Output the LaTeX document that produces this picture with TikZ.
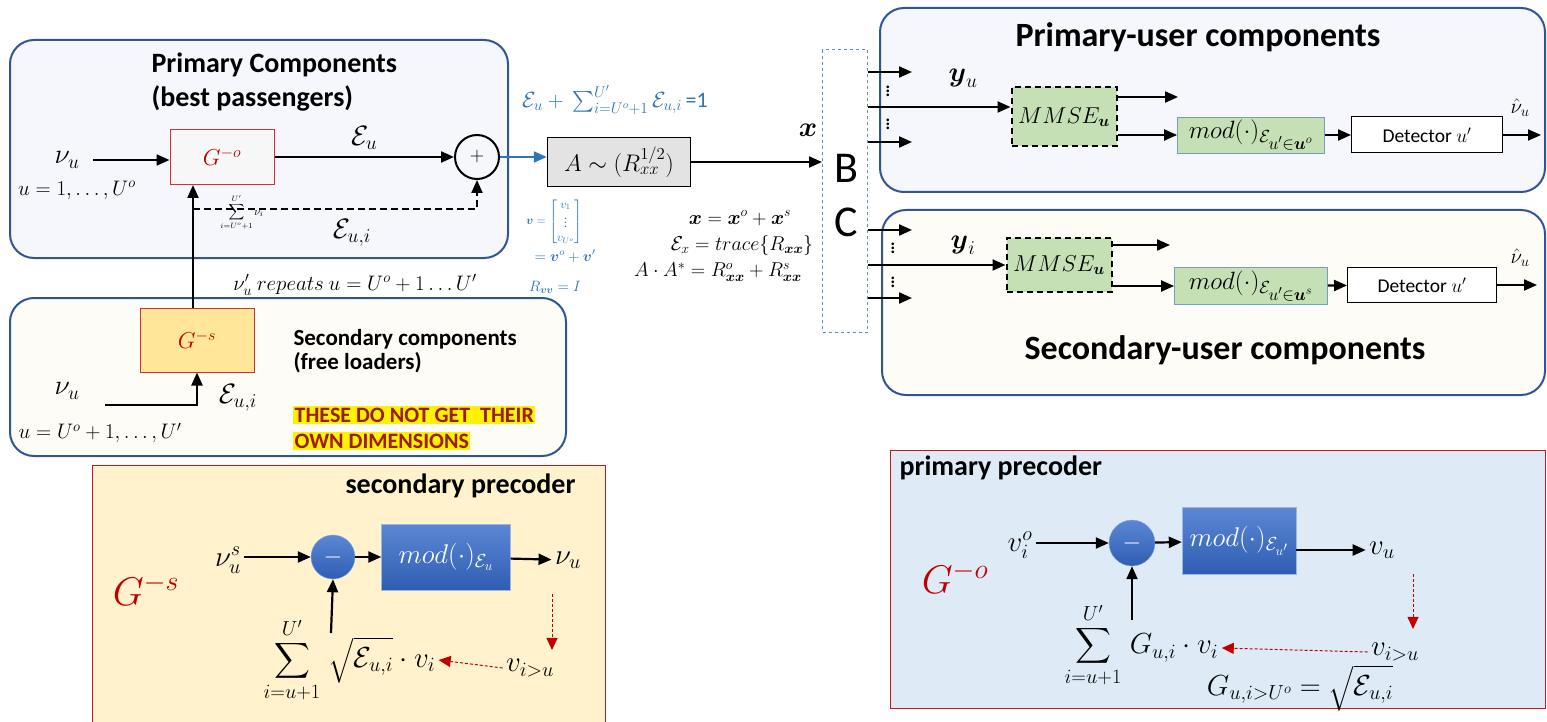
\documentclass[tikz,border=0pt]{standalone}
\usepackage{fix-cm}
\usepackage{amsmath}
\usepackage{fontspec}
\setmainfont{Carlito}
\setsansfont{Carlito}
\usetikzlibrary{arrows.meta}
\definecolor{panelblue}{HTML}{2F5597}
\definecolor{panelfill}{HTML}{F5F7FC}
\definecolor{creamfill}{HTML}{FDFCF6}
\definecolor{gred}{HTML}{C00000}
\definecolor{gsfill}{HTML}{FFE699}
\definecolor{mmsegreen}{HTML}{C5E0B4}
\definecolor{modtop}{HTML}{5B87D4}
\definecolor{modbot}{HTML}{2F5DB2}
\definecolor{txtblue}{HTML}{2E75B6}
\definecolor{secfill}{HTML}{FFF2CC}
\definecolor{primfill}{HTML}{DEEBF7}
\definecolor{darkred}{HTML}{9C1B1B}

\begin{document}
\begin{tikzpicture}[x=1pt,y=-1pt,
    panel/.style={draw=panelblue, line width=2pt, rounded corners=24pt},
    arr/.style={line width=2.2pt, -{Triangle[length=13pt,width=11pt]}},
    redarr/.style={gred, line width=1pt, dash pattern=on 3pt off 2pt, -{Triangle[length=12pt,width=11pt]}},
    gblk/.style={draw=gred!80, line width=1pt, text=gred, font=\fontsize{23}{26}\selectfont},
    mth/.style={font=\fontsize{28}{32}\selectfont},
    mths/.style={font=\fontsize{21}{24}\selectfont},
    pm/.style={font=\fontsize{29}{34}\selectfont},
    head/.style={font=\bfseries\fontsize{28}{34}\selectfont},
    bluet/.style={text=txtblue, font=\fontsize{22}{24}\selectfont},
    meq/.style={font=\fontsize{20}{24}\selectfont},
    dotcol/.style={font=\fontsize{22}{24}\selectfont},
    mmse/.style={draw, dash pattern=on 6pt off 4pt, line width=2pt, fill=mmsegreen, font=\fontsize{23}{26}\selectfont},
    modg/.style={draw=txtblue!70, line width=0.8pt, fill=mmsegreen, inner sep=1pt, font=\fontsize{25}{28}\selectfont},
    det/.style={draw, line width=1pt, fill=white, font=\fontsize{19.5}{22}\selectfont},
    circ/.style={circle, draw=modtop!70, top color=modtop, bottom color=modbot, text=white, font=\fontsize{24}{28}\selectfont},
    modb/.style={draw=modtop!60, top color=modtop, bottom color=modbot, text=white, font=\fontsize{27}{32}\selectfont},
    bigG/.style={text=gred, font=\fontsize{40}{46}\selectfont},
    warn/.style={anchor=west, fill=yellow, text=darkred, inner sep=1.5pt, font=\bfseries\fontsize{22}{25}\selectfont}
]
\useasboundingbox (0,0) rectangle (1547,722);

% panels
\draw[panel, fill=panelfill] (10,40) rectangle (508,258);
\draw[panel, fill=creamfill] (10,298) rectangle (566,456);
\draw[panel, fill=panelfill] (880,8) rectangle (1545,192);
\draw[panel, fill=creamfill] (882,210) rectangle (1545,395);
\draw[gred!90, line width=1pt, fill=secfill] (92,465) rectangle (605,740);
\draw[gred!90, line width=1pt, fill=primfill] (890,450) rectangle (1545,708);

% primary components
\node[head, anchor=north west, align=left] (ptitle) at (148,49) {Primary Components\\(best passengers)};
\node[mth] (nuo) at (67,160) {$\nu_u$};
\node[mths] (uo) at (77,190) {$u=1,\dots,U^o$};
\node[gblk, fill=gray!6, minimum width=104pt, minimum height=55pt] (Go) at (222,157) {$G^{-o}$};
\node[draw, circle, line width=2pt, minimum size=44pt, font=\fontsize{20}{24}\selectfont] (plus) at (477,157) {$+$};
\coordinate (tap) at (193,209);
\draw[arr] ([xshift=10pt]nuo.east) -- (Go.west |- nuo.east);
\draw[arr] (Go.east) -- (plus.west) node[midway, above=3pt, mth] {$\mathcal{E}_u$};
\draw[arr, dash pattern=on 7pt off 4pt] (tap) -| (plus.south);
\node[font=\fontsize{11}{12}\selectfont] (sumv) at (242,212) {$\displaystyle\sum_{i=U^o+1}^{U'}\nu_i$};
\node[mth] (eui) at (352,233) {$\mathcal{E}_{u,i}$};
\node[mths] (rep) at (355,285) {$\nu'_u\ repeats\ u=U^o+1\dots U'$};

% secondary components
\node[gblk, fill=gsfill, minimum width=114pt, minimum height=64pt] (Gs) at (197,340) {$G^{-s}$};
\draw[arr] (Gs.north -| tap) -- (Go.south -| tap);
\node[mth] (nus) at (67,391) {$\nu_u$};
\coordinate (sin) at (105,405);
\draw[arr] (sin) -| (Gs.south);
\node[mth] (eus) at (238,398) {$\mathcal{E}_{u,i}$};
\node[mths] (us) at (100,433) {$u=U^o+1,\dots,U'$};
\node[anchor=west, align=left, font=\bfseries\fontsize{23}{24}\selectfont] (stitle) at (290,351) {Secondary components\\(free loaders)};
\node[warn] (w1) at (293,415) {THESE DO NOT GET\ \ THEIR};
\node[warn] (w2) at (293,441) {OWN DIMENSIONS};

% covariance shaping
\node[bluet] (esum) at (615,100) {$\mathcal{E}_u+\,\sum_{i=U^o+1}^{U'}\mathcal{E}_{u,i}$\,=1};
\node[draw, line width=1.5pt, fill=gray!22, minimum width=143pt, minimum height=49pt, font=\fontsize{24}{28}\selectfont] (A) at (619,162) {$A\sim(R_{xx}^{1/2})$};
\draw[arr, txtblue] (plus.east) -- (plus.east -| A.west);
\node[draw=txtblue!80, dashed, line width=1pt, minimum width=45pt, minimum height=282pt] (BC) at (845,191) {};
\draw[arr] (A.east) -- (A.east -| BC.west);
\node[mth] (xl) at (808,130) {$\boldsymbol{x}$};
\node[font=\fontsize{44}{48}\selectfont] (Bl) at (846,168) {B};
\node[font=\fontsize{44}{48}\selectfont] (Cl) at (846,222) {C};
\node[text=txtblue, font=\fontsize{12}{14}\selectfont] (vvec) at (554,222) {$\boldsymbol{v}=\begin{bmatrix}v_1\\ \vdots\\ v_{U^o}\end{bmatrix}$};
\node[text=txtblue, font=\fontsize{15}{16}\selectfont] (vsplit) at (565,256) {$=\boldsymbol{v}^o+\boldsymbol{v}'$};
\node[text=txtblue, font=\fontsize{15}{16}\selectfont] (rvv) at (555,287) {$R_{\boldsymbol{vv}}=I$};
\node[meq] (xsum) at (740,218) {$\boldsymbol{x}=\boldsymbol{x}^o+\boldsymbol{x}^s$};
\node[meq] (ex) at (742,245) {$\mathcal{E}_x=trace\{R_{\boldsymbol{xx}}\}$};
\node[meq] (aa) at (718,272) {$A\cdot A^*=R_{\boldsymbol{xx}}^o+R_{\boldsymbol{xx}}^s$};

% primary-user receiver
\node[font=\bfseries\fontsize{34}{38}\selectfont] (rtitle) at (1198,37) {Primary-user components};
\coordinate (t1) at (912,72);
\coordinate (t3) at (912,142);
\draw[arr] (t1 -| BC.east) -- (t1);
\draw[arr] (t3 -| BC.east) -- (t3);
\node[dotcol] at (888,88) {$\vdots$};
\node[dotcol] at (888,121) {$\vdots$};
\node[mmse, minimum width=105pt, minimum height=59pt] (M1) at (1064,117) {$MMSE_{\boldsymbol{u}}$};
\draw[arr] ([yshift=10pt]M1.west -| BC.east) -- ([yshift=10pt]M1.west);
\node[mth] (yu) at (963,78) {$\boldsymbol{y}_u$};
\coordinate (m1o) at (1178,97);
\draw[arr] (M1.east |- m1o) -- (m1o);
\node[modg, minimum width=147pt, minimum height=36pt] (mod1) at (1251,135) {$mod(\cdot)_{\mathcal{E}_{\scriptstyle u'\in\boldsymbol{u}^o}}$};
\draw[arr] (M1.east |- mod1.west) -- (mod1.west);
\node[det, minimum width=151pt, minimum height=36pt] (D1) at (1427,135) {Detector $u'$};
\draw[arr] (mod1) -- (D1);
\coordinate (d1o) at (1541,135);
\draw[arr] (D1) -- (d1o);
\node[mths] (vh1) at (1520,108) {$\hat{\nu}_u$};

% secondary-user receiver
\node[font=\bfseries\fontsize{34}{38}\selectfont] (rtitle2) at (1225,350) {Secondary-user components};
\coordinate (b1) at (912,230);
\coordinate (b3) at (912,298);
\draw[arr] (b1 -| BC.east) -- (b1);
\draw[arr] (b3 -| BC.east) -- (b3);
\node[dotcol] at (893,245) {$\vdots$};
\node[dotcol] at (893,279) {$\vdots$};
\node[mmse, minimum width=105pt, minimum height=54pt] (M2) at (1059,265) {$MMSE_{\boldsymbol{u}}$};
\draw[arr] (M2.west -| BC.east) -- (M2.west);
\node[mth] (yi) at (963,245) {$\boldsymbol{y}_i$};
\coordinate (m2o) at (1170,245);
\draw[arr] (M2.east |- m2o) -- (m2o);
\node[modg, minimum width=153pt, minimum height=37pt] (mod2) at (1251,286) {$mod(\cdot)_{\mathcal{E}_{\scriptstyle u'\in\boldsymbol{u}^s}}$};
\draw[arr] (M2.east |- mod2.west) -- (mod2.west);
\node[det, minimum width=149pt, minimum height=35pt] (D2) at (1422,285) {Detector $u'$};
\draw[arr] (mod2) -- (D2);
\coordinate (d2o) at (1537,285);
\draw[arr] (D2) -- (d2o);
\node[mths] (vh2) at (1520,258) {$\hat{\nu}_u$};

% secondary precoder
\node[anchor=east, font=\bfseries\fontsize{28}{32}\selectfont] (sptitle) at (579,486) {secondary precoder};
\node[bigG] (Gs3) at (146,590) {$G^{-s}$};
\node[pm] (nss) at (228,560) {$\nu_u^s$};
\node[circ, minimum size=44pt] (m1) at (333,557) {$-$};
\node[modb, minimum width=129pt, minimum height=66pt] (mod3) at (446,557) {$mod(\cdot)_{\mathcal{E}_u}$};
\node[pm] (vo3) at (568,560) {$\nu_u$};
\draw[arr] (nss.east |- m1.west) -- (m1.west);
\draw[arr] (m1) -- (mod3);
\draw[arr] (mod3) -- (vo3);
\node[pm] (sum3) at (292,660) {$\displaystyle\sum_{i=u+1}^{U'}$};
\node[pm] (sq3) at (382,660) {$\sqrt{\mathcal{E}_{u,i}}\cdot v_i$};
\coordinate (s3) at (331,633);
\draw[arr] (s3) -- (m1.south);
\node[pm] (vi3) at (530,668) {$v_{i>u}$};
\draw[redarr] ([xshift=-16pt,yshift=-22pt]vo3.south) -- ++(0,56);
\draw[redarr] (vi3.west) -- (sq3.east);

% primary precoder
\node[anchor=west, font=\bfseries\fontsize{28}{32}\selectfont] (pptitle) at (896,468) {primary precoder};
\node[bigG] (Go4) at (955,578) {$G^{-o}$};
\node[pm] (vio) at (1020,545) {$v_i^o$};
\node[circ, minimum size=46pt] (m2) at (1132,543) {$-$};
\node[modb, minimum width=114pt, minimum height=67pt] (mod4) at (1239,541) {$mod(\cdot)_{\mathcal{E}_{u'}}$};
\node[pm] (vu4) at (1382,550) {$v_u$};
\draw[arr] (vio.east |- m2.west) -- (m2.west);
\draw[arr] (m2) -- (mod4);
\draw[arr] (mod4.east |- vu4.west) -- (vu4.west);
\node[pm] (sum4) at (1093,645) {$\displaystyle\sum_{i=u+1}^{U'}$};
\node[pm] (gt4) at (1174,648) {$G_{u,i}\cdot v_i$};
\coordinate (s4) at (1132,620);
\draw[arr] (s4) -- (m2.south);
\node[pm] (vi4) at (1395,652) {$v_{i>u}$};
\draw[redarr] ([xshift=31pt,yshift=-12pt]vu4.south) -- ++(0,55);
\draw[redarr] (vi4.west) -- (gt4.east);
\node[pm] (geq) at (1300,688) {$G_{u,i>U^o}=\sqrt{\mathcal{E}_{u,i}}$};
\end{tikzpicture}
\end{document}
